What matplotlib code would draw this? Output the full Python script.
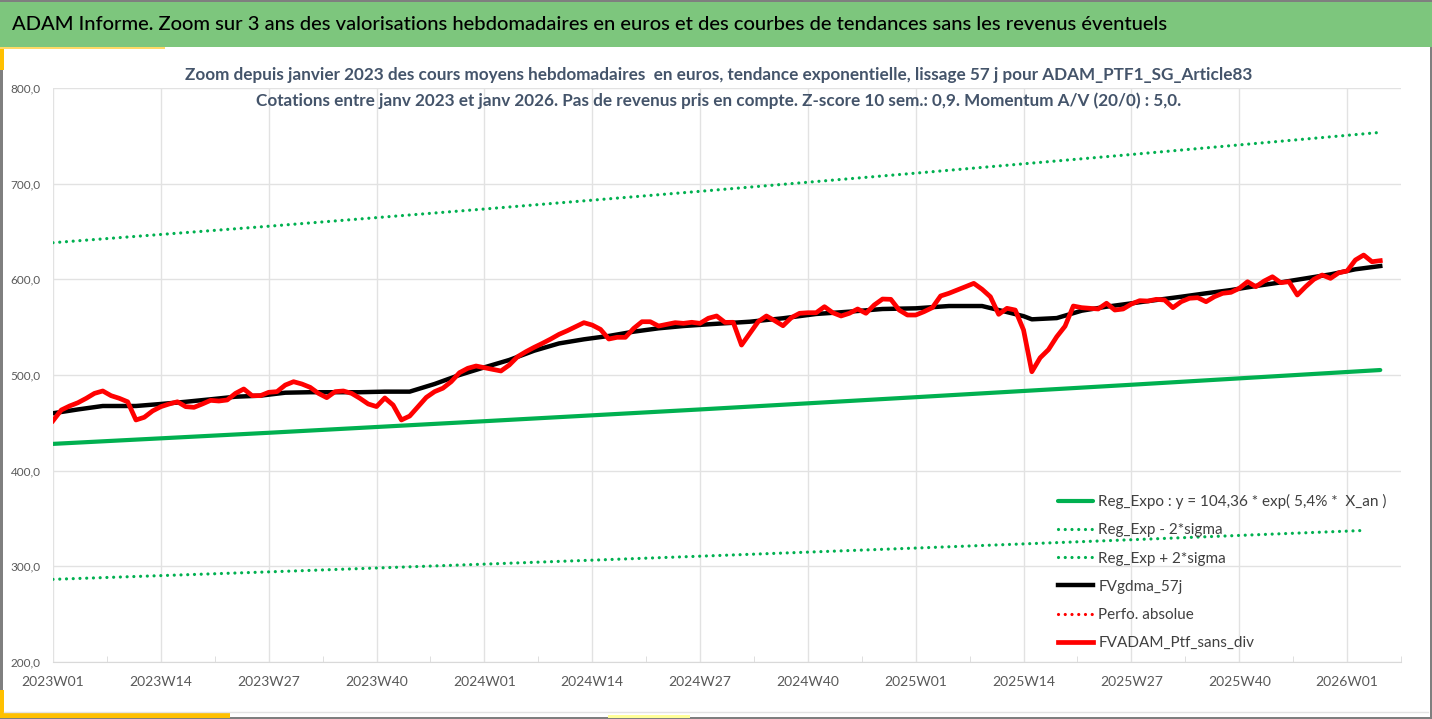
import matplotlib
matplotlib.use("Agg")
import matplotlib.pyplot as plt
from matplotlib.patches import Rectangle
from matplotlib.lines import Line2D

# categories: ISO weeks from 2023W01 to 2026W05
weeks = [f"{y}W{w:02d}" for y in (2023, 2024, 2025) for w in range(1, 53)]
weeks += [f"2026W{w:02d}" for w in range(1, 6)]
tick_idx = list(range(0, 157, 13))
tick_labels = [weeks[i] for i in tick_idx]

# FVADAM_Ptf_sans_div (weekly)
ptf = [452.2, 463.4, 467.6, 471.0, 475.6, 480.8, 483.3, 478.4, 475.6, 472.0,
       453.0, 455.8, 462.4, 466.9, 469.7, 472.0, 466.9, 466.2, 469.7, 473.5,
       472.8, 473.9, 480.8, 485.4, 478.4, 478.4, 481.9, 482.6, 489.5, 493.0,
       490.6, 487.1, 480.8, 476.3, 482.6, 483.3, 480.8, 475.6, 469.7, 467.0,
       476.0, 468.6, 453.0, 457.1, 466.9, 476.6, 482.6, 486.2, 493.0, 502.4,
       507.0, 509.4, 507.6, 505.9, 504.2, 510.4, 519.1, 524.3, 528.9, 533.1,
       537.6, 542.5, 546.3, 550.5, 554.7, 552.2, 547.7, 537.6, 539.4, 539.4,
       548.7, 555.7, 555.7, 551.2, 553.0, 554.7, 554.0, 555.1, 554.0, 559.3,
       561.7, 555.0, 555.1, 531.3, 543.5, 555.7, 561.7, 556.8, 551.5, 559.9,
       564.5, 565.1, 565.1, 571.4, 565.1, 561.7, 564.5, 569.0, 564.5, 573.2,
       579.4, 579.1, 567.9, 562.7, 562.7, 566.2, 570.4, 582.6, 585.4, 588.8,
       592.3, 595.8, 589.6, 581.8, 563.4, 569.7, 567.9, 547.0, 503.4, 518.0,
       526.5, 540.0, 551.0, 572.1, 570.4, 569.7, 569.0, 575.0, 567.9, 569.0,
       574.2, 577.7, 577.3, 579.1, 578.4, 570.4, 576.6, 580.2, 580.8, 576.6,
       581.8, 585.4, 586.4, 590.6, 597.5, 592.3, 598.2, 602.7, 596.5, 597.5,
       583.6, 592.3, 600.0, 604.5, 601.0, 606.9, 608.7, 620.2, 625.4, 618.4,
       619.5]

# FVgdma_57j (read at sampled weeks)
gdma_idx = [0, 3, 6, 10, 13, 16, 19, 22, 25, 28, 31, 34, 37, 40, 43, 46, 49,
            52, 55, 58, 61, 64, 67, 70, 73, 76, 79, 84, 88, 92, 96, 100, 104,
            108, 112, 114, 117, 118, 121, 124, 127, 130, 133, 136, 139, 142,
            145, 148, 151, 154, 157, 160]
gdma = [460.0, 464.0, 467.6, 467.6, 469.7, 472.0, 474.6, 477.3, 478.4, 481.5,
        482.0, 482.0, 482.0, 482.6, 482.6, 490.6, 500.0, 508.0, 515.7, 525.4,
        533.0, 537.3, 540.8, 545.3, 548.8, 551.2, 553.0, 555.7, 559.3, 563.8,
        566.2, 569.0, 569.7, 572.1, 572.1, 567.9, 561.5, 558.2, 559.5, 567.2,
        571.4, 574.9, 578.4, 581.8, 585.4, 588.8, 593.0, 596.8, 601.0, 605.2,
        610.5, 613.9]

# trend lines (read at quarterly points)
trend_idx = [0, 26, 52, 78, 104, 130, 160]
reg_expo = [428.0, 439.6, 451.7, 464.0, 476.8, 489.8, 505.2]
reg_plus = [638.3, 655.5, 673.5, 692.0, 711.0, 730.5, 753.6]
low_idx = [0, 26, 52, 78, 104, 130, 158]
reg_minus = [286.4, 294.2, 302.3, 310.6, 319.1, 327.8, 337.5]
perfo = []

green = "#00B050"
W, H = 1432, 719
fig = plt.figure(figsize=(W / 100, H / 100), dpi=100)
fig.patch.set_edgecolor("#7F7F7F")
fig.patch.set_linewidth(2.5)
fam = ["Lato", "DejaVu Sans"]


def deco(x, y, w, h, c):
    # rectangle in pixel units from the top-left corner
    fig.patches.append(Rectangle((x / W, 1 - (y + h) / H), w / W, h / H,
                                 transform=fig.transFigure, facecolor=c,
                                 edgecolor="none", zorder=-1))


deco(0, 2, W, 45, "#7DC67D")
deco(0, 47, 4, 23, "#FFC000")
deco(0, 47, 165, 2, "#FFD966")
deco(0, 713, 230, 5, "#FFC000")
deco(0, 690, 4, 28, "#FFC000")
deco(608, 715, 82, 3, "#FFFF99")
fig.lines.append(Line2D([0.003, 0.997], [1 - 712 / H] * 2, transform=fig.transFigure,
                        color="#E3E3E3", lw=1))

fig.text(12 / W, 1 - 25 / H, "ADAM Informe. Zoom sur 3 ans des valorisations hebdomadaires "
         "en euros et des courbes de tendances sans les revenus éventuels",
         family=fam, fontsize=14.5, fontweight="medium", color="black", va="center", ha="left")
fig.text(719 / W, 1 - 75 / H, "Zoom depuis janvier 2023 des cours moyens hebdomadaires  en euros, "
         "tendance exponentielle, lissage 57 j pour ADAM_PTF1_SG_Article83",
         family=fam, fontsize=12.3, fontweight="bold", color="#44546A", ha="center", va="center")
fig.text(719 / W, 1 - 101 / H, "Cotations entre janv 2023 et janv 2026. Pas de revenus pris en compte. "
         "Z-score 10 sem.: 0,9. Momentum A/V (20/0) : 5,0.",
         family=fam, fontsize=12.3, fontweight="bold", color="#44546A", ha="center", va="center")

ax = fig.add_axes([53 / W, 1 - 662 / H, (1401 - 53) / W, (662 - 88) / H])
ax.set_facecolor("none")

ax.plot(trend_idx, reg_expo, color=green, lw=3.0, solid_capstyle="round",
        label="Reg_Expo : y = 104,36 * exp( 5,4% *  X_an )", zorder=3)
ax.plot(low_idx, reg_minus, color=green, lw=2.3, linestyle=(0, (0.01, 2.1)),
        dash_capstyle="round", label="Reg_Exp - 2*sigma", zorder=3)
ax.plot(trend_idx, reg_plus, color=green, lw=2.3, linestyle=(0, (0.01, 2.1)),
        dash_capstyle="round", label="Reg_Exp + 2*sigma", zorder=3)
ax.plot(gdma_idx, gdma, color="black", lw=3.2, label="FVgdma_57j", zorder=4)
ax.plot(perfo, perfo, color="#FF0000", lw=2.3, linestyle=(0, (0.01, 2.1)),
        dash_capstyle="round", label="Perfo. absolue")
ax.plot(range(len(ptf)), ptf, color="#FF0000", lw=3.4, solid_joinstyle="round",
        label="FVADAM_Ptf_sans_div", zorder=5)

ax.set_xlim(0, len(ptf) - 1)
ax.set_ylim(200, 800)
ax.set_yticks(range(200, 801, 100))
ax.set_yticklabels([f"{v},0" for v in range(200, 801, 100)])
ax.set_xticks(tick_idx)
ax.set_xticklabels(tick_labels)
ax.set_xticks([i + 6.5 for i in tick_idx], minor=True)
ax.grid(True, which="major", color="#E2E2E2", lw=1)
for s in ("top", "right", "left"):
    ax.spines[s].set_visible(False)
ax.spines["bottom"].set_color("#D9D9D9")
ax.tick_params(axis="y", length=0, pad=9, labelsize=8.5, labelcolor="#595959")
ax.tick_params(axis="x", which="major", length=0, pad=10, labelsize=10, labelcolor="#595959")
ax.tick_params(axis="x", which="minor", direction="in", length=4, color="#D9D9D9")
for t in ax.get_xticklabels() + ax.get_yticklabels():
    t.set_family(fam)

leg = ax.legend(loc="upper left", bbox_to_anchor=(0.7455, 0.2925), frameon=False,
                borderaxespad=0, borderpad=0,
                prop={"family": fam, "size": 11}, handlelength=2.3, handletextpad=0.35,
                labelspacing=0.93, labelcolor="#404040")

fig.savefig("out.png", dpi=100)
